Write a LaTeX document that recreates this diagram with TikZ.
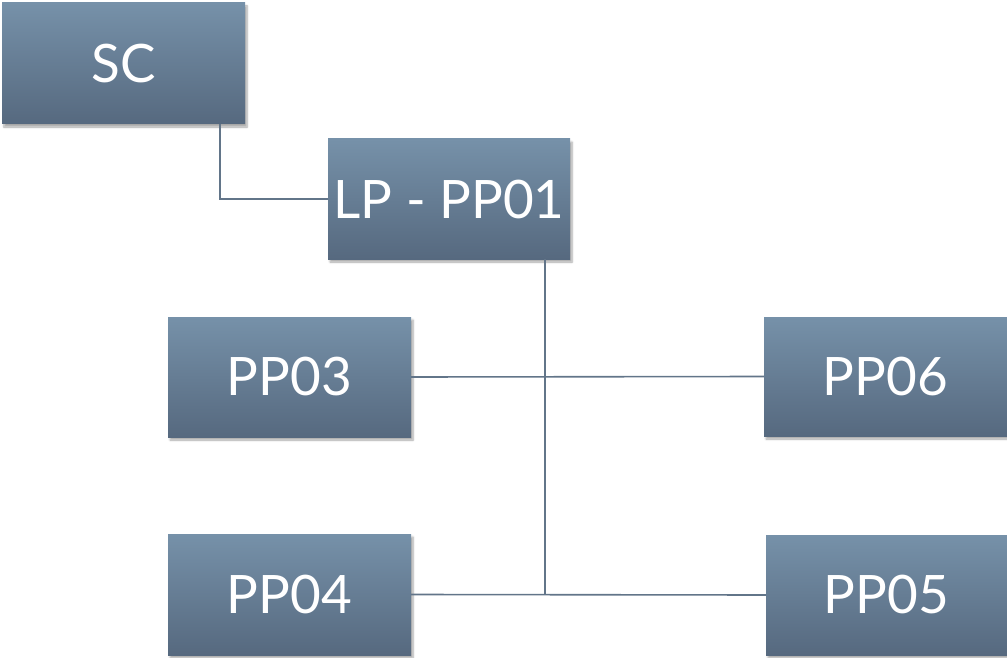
\documentclass[tikz,border=0pt]{standalone}
\usepackage{fontspec}
\setmainfont{Lato}
\usetikzlibrary{shadows.blur}
\definecolor{boxtop}{HTML}{7691A9}
\definecolor{boxbottom}{HTML}{56697F}
\definecolor{wire}{HTML}{627589}

\begin{document}
\begin{tikzpicture}[x=1pt,y=-1pt]
    \tikzstyle{unit}=[rectangle, top color=boxtop, bottom color=boxbottom, draw=none,
        minimum width=243pt, minimum height=120pt, text=white, font=\fontsize{53}{60}\selectfont,
        blur shadow={shadow xshift=2pt, shadow yshift=-3pt, shadow blur steps=6, shadow opacity=35}]
    \tikzstyle{link}=[line width=1.6pt, wire]

    \useasboundingbox (0,0) rectangle (1007,658);

    % top level
    \node[unit, minimum height=121pt] (SC) at (123.5,63.5) {SC};
    \node[unit, minimum width=242pt] (LP) at (449,199) {LP - PP01};

    % lower level
    \node[unit] (PP03) at (289.5,377) {PP03};
    \node[unit, minimum height=119pt] (PP06) at (885.5,376.5) {PP06};
    \node[unit, minimum height=121pt] (PP04) at (289.5,594.5) {PP04};
    \node[unit, minimum width=241pt] (PP05) at (886.5,595) {PP05};

    % wires
    \coordinate (hub) at (545,594);
    \draw[link] ([xshift=96.5pt]SC.south) |- (LP.west);
    \draw[link] ([xshift=96pt]LP.south) -- (hub);
    \draw[link] (PP03.east) -- (PP06.west);
    \draw[link] (PP04.east) -- (PP05.west);

\end{tikzpicture}
\end{document}
